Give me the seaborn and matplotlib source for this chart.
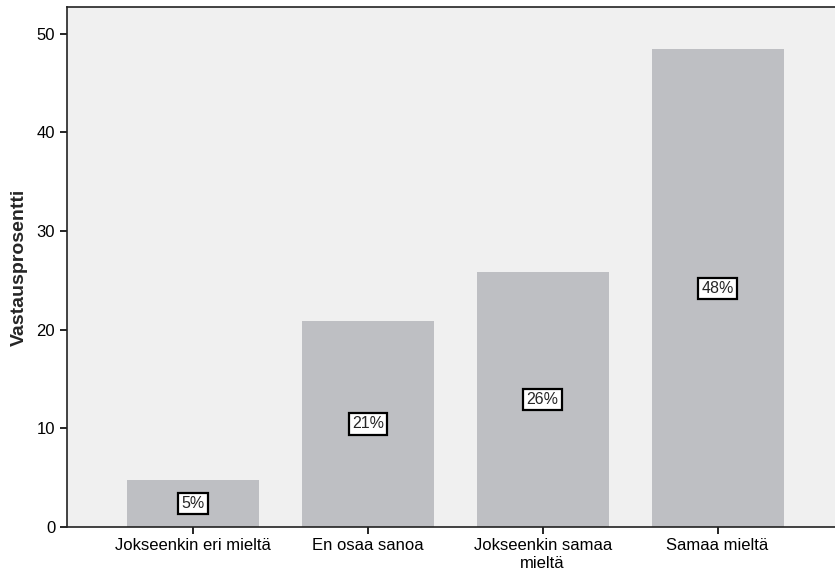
import matplotlib
matplotlib.use('Agg')
import matplotlib.pyplot as plt
import seaborn as sns
import pandas as pd

vastaukset = ['Jokseenkin eri mieltä', 'En osaa sanoa', 'Jokseenkin samaa\nmieltä', 'Samaa mieltä']
prosentit = [4.8, 20.9, 25.8, 48.4]
tekstit = ['5%', '21%', '26%', '48%']

sns.set_theme(style="white")
plt.rcParams['font.family'] = ['Liberation Sans', 'DejaVu Sans']

df = pd.DataFrame({'Vastaus': vastaukset, 'Prosentti': prosentit})

fig = plt.figure(figsize=(8.35, 5.81), dpi=100)
ax = fig.add_axes([0.0802, 0.0929, 0.93, 0.895])
ax.set_facecolor('#F0F0F0')

sns.barplot(data=df, x='Vastaus', y='Prosentti', color='#BEBFC3', saturation=1,
            width=0.754, ax=ax, edgecolor='none')

# prosenttilaatikot pylvään puoliväliin
for i, (p, t) in enumerate(zip(prosentit, tekstit)):
    ax.text(i, p / 2, t, ha='center', va='center', fontsize=11.5,
            bbox=dict(boxstyle='square,pad=0.2', facecolor='white', edgecolor='black', linewidth=1.6))

ax.set_xlim(-0.72, 3.72)
ax.set_ylim(0, 52.7)
ax.set_yticks([0, 10, 20, 30, 40, 50])
ax.set_xlabel('')
ax.set_ylabel('Vastausprosentti', fontsize=14, fontweight='bold', labelpad=6)
ax.tick_params(axis='both', direction='out', length=5, width=1.2, colors='black',
               labelsize=12, bottom=True, left=True)
ax.tick_params(axis='x', pad=3)
for s in ['left', 'bottom', 'top', 'right']:
    ax.spines[s].set_color('#222222')
    ax.spines[s].set_linewidth(1.2)

fig.savefig('out.png', dpi=100)
